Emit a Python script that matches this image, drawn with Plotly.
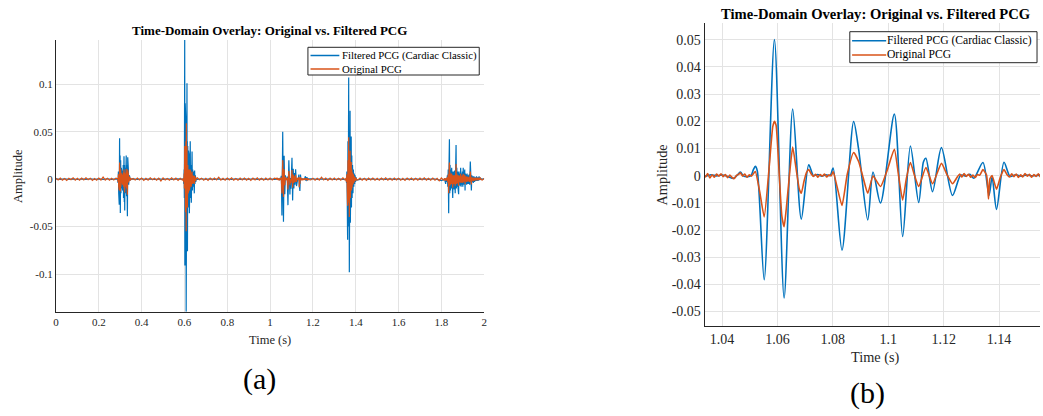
import plotly.graph_objects as go

# ---------------- data ----------------
SERIES_NAMES = ["Filtered PCG (Cardiac Classic)", "Original PCG"]
TITLE = "Time-Domain Overlay: Original vs. Filtered PCG"

# baseline noise of the original PCG, one value every 0.01 s from 0 to 2 s
orig_base_step = 0.01
orig_base = [
    0.0010,-0.0008,0.0012,-0.0011,0.0006,-0.0013,0.0009,-0.0007,0.0014,-0.0010,
    0.0008,-0.0012,0.0011,-0.0009,0.0013,-0.0006,0.0010,-0.0014,0.0007,-0.0011,
    0.0012,-0.0009,0.0022,-0.0010,0.0008,-0.0012,0.0010,-0.0008,0.0011,-0.0013,
    0.0009,-0.0011,0.0013,-0.0008,0.0010,-0.0012,0.0007,-0.0010,0.0012,-0.0009,
    0.0011,-0.0014,0.0008,-0.0010,0.0013,-0.0007,0.0009,-0.0012,0.0010,-0.0020,
    0.0012,-0.0009,0.0007,-0.0011,0.0014,-0.0008,0.0010,-0.0013,0.0009,-0.0010,
    0.0011,-0.0008,0.0012,-0.0010,0.0009,-0.0012,0.0013,-0.0007,0.0010,-0.0011,
    0.0008,-0.0013,0.0011,-0.0009,0.0012,-0.0008,0.0021,-0.0010,0.0009,-0.0012,
    0.0010,-0.0009,0.0013,-0.0011,0.0007,-0.0012,0.0011,-0.0008,0.0012,-0.0010,
    0.0009,-0.0014,0.0010,-0.0008,0.0013,-0.0010,0.0008,-0.0011,0.0012,-0.0009,
    0.0011,-0.0010,0.0009,-0.0012,0.0010,-0.0008,0.0012,-0.0011,0.0009,-0.0010,
    0.0012,-0.0009,0.0010,-0.0013,0.0008,-0.0011,0.0013,-0.0009,0.0011,-0.0008,
    0.0010,-0.0012,0.0009,-0.0010,0.0020,-0.0008,0.0011,-0.0013,0.0010,-0.0009,
    0.0012,-0.0010,0.0008,-0.0011,0.0013,-0.0009,0.0010,-0.0012,0.0009,-0.0010,
    0.0011,-0.0008,0.0012,-0.0010,0.0009,-0.0013,0.0010,-0.0009,0.0012,-0.0011,
    0.0008,-0.0012,0.0010,-0.0009,0.0013,-0.0010,0.0009,-0.0011,0.0012,-0.0008,
    0.0010,-0.0011,0.0009,-0.0013,0.0011,-0.0008,0.0012,-0.0010,0.0009,-0.0012,
    0.0011,-0.0009,0.0013,-0.0010,0.0008,-0.0012,0.0010,-0.0011,0.0009,-0.0018,
    0.0012,-0.0010,0.0009,-0.0011,0.0010,-0.0008,0.0012,-0.0009,0.0011,-0.0010,
    0.0009,-0.0012,0.0010,-0.0008,0.0011,-0.0010,0.0013,-0.0009,0.0010,-0.0011,
    0.0008,
]

# baseline of the filtered PCG, one value every 0.02 s from 0 to 2 s
filt_base_step = 0.02
filt_base = [
    0.0003,-0.0002,0.0004,-0.0003,0.0002,-0.0004,0.0003,-0.0002,0.0004,-0.0003,
    0.0002,-0.0003,0.0004,-0.0002,0.0003,-0.0004,0.0002,-0.0003,0.0003,-0.0002,
    0.0004,-0.0003,0.0002,-0.0004,0.0003,-0.0002,0.0004,-0.0003,0.0002,-0.0003,
    0.0003,-0.0004,0.0002,-0.0003,0.0004,-0.0002,0.0003,-0.0003,0.0002,-0.0004,
    0.0003,-0.0002,0.0004,-0.0003,0.0002,-0.0003,0.0004,-0.0002,0.0003,-0.0004,
    0.0002,-0.0003,0.0003,-0.0002,0.0004,-0.0003,0.0002,-0.0004,0.0003,-0.0002,
    0.0004,-0.0003,0.0002,-0.0003,0.0003,-0.0004,0.0002,-0.0002,0.0004,-0.0003,
    0.0003,-0.0002,0.0004,-0.0003,0.0002,-0.0004,0.0003,-0.0002,0.0003,-0.0003,
    0.0002,-0.0004,0.0003,-0.0002,0.0004,-0.0003,0.0002,-0.0003,0.0004,-0.0002,
    -0.0015,-0.0030,0.0003,-0.0002,0.0004,-0.0003,0.0002,-0.0004,0.0003,-0.0002,
    0.0002,
]

# heart-sound bursts: (time s, filtered, original)
burst1 = [
    (0.2880, 0.0000, 0.0005), (0.2900,-0.0040,-0.0030), (0.2915, 0.0080, 0.0050),
    (0.2930,-0.0150,-0.0080), (0.2945, 0.0180, 0.0100), (0.2955,-0.0270,-0.0120),
    (0.2970, 0.0430, 0.0175), (0.2985,-0.0200,-0.0100), (0.2995, 0.0250, 0.0120),
    (0.3005,-0.0358,-0.0130), (0.3020, 0.0200, 0.0100), (0.3035,-0.0150,-0.0080),
    (0.3050, 0.0120, 0.0060), (0.3065,-0.0100,-0.0050), (0.3080, 0.0080, 0.0040),
    (0.3095,-0.0090,-0.0040), (0.3110, 0.0100, 0.0050), (0.3125,-0.0120,-0.0060),
    (0.3140, 0.0150, 0.0070), (0.3155,-0.0200,-0.0080), (0.3176, 0.0240, 0.0100),
    (0.3190,-0.0240,-0.0110), (0.3200, 0.0150, 0.0070), (0.3210,-0.0330,-0.0140),
    (0.3225, 0.0120, 0.0060), (0.3240,-0.0150,-0.0080), (0.3260, 0.0180, 0.0080),
    (0.3270,-0.0100,-0.0060), (0.3280, 0.0250, 0.0110), (0.3295,-0.0180,-0.0100),
    (0.3310, 0.0150, 0.0080), (0.3335,-0.0390,-0.0165), (0.3350, 0.0230, 0.0100),
    (0.3365,-0.0150,-0.0070), (0.3380, 0.0100, 0.0050), (0.3395,-0.0060,-0.0035),
    (0.3410, 0.0040, 0.0025), (0.3425,-0.0030,-0.0020), (0.3440, 0.0030, 0.0020),
    (0.3460,-0.0015,-0.0015), (0.3480, 0.0010, 0.0012), (0.3500, 0.0000,-0.0005),
]

burst2 = [
    (0.5950, 0.0000, 0.0010), (0.5970,-0.0050,-0.0030), (0.5985, 0.0100, 0.0060),
    (0.5995,-0.0200,-0.0100), (0.6005, 0.0300, 0.0150), (0.6012, 0.1466, 0.0350),
    (0.6020,-0.0910,-0.0300), (0.6035, 0.0800, 0.0300), (0.6050,-0.0700,-0.0350),
    (0.6065, 0.0600, 0.0400), (0.6080,-0.1397,-0.0550), (0.6088, 0.0500, 0.0590),
    (0.6098,-0.0500,-0.0300), (0.6105, 0.0300, 0.0250), (0.6110,-0.0400,-0.0250),
    (0.6118, 0.1010, 0.0350), (0.6126,-0.0600,-0.0300), (0.6133, 0.0400, 0.0200),
    (0.6140,-0.0760,-0.0280), (0.6155, 0.0350, 0.0150), (0.6170,-0.0300,-0.0150),
    (0.6185, 0.0300, 0.0120), (0.6200,-0.0250,-0.0120), (0.6215, 0.0250, 0.0100),
    (0.6230,-0.0360,-0.0120), (0.6245, 0.0200, 0.0080), (0.6260,-0.0150,-0.0080),
    (0.6270, 0.0400, 0.0100), (0.6285,-0.0200,-0.0080), (0.6300, 0.0150, 0.0060),
    (0.6320,-0.0250,-0.0080), (0.6335, 0.0120, 0.0050), (0.6345,-0.0100,-0.0050),
    (0.6355, 0.0290, 0.0080), (0.6370,-0.0120,-0.0050), (0.6385, 0.0100, 0.0040),
    (0.6400,-0.0080,-0.0040), (0.6420, 0.0080, 0.0035), (0.6440,-0.0060,-0.0030),
    (0.6450, 0.0030, 0.0020), (0.6460,-0.0150,-0.0050), (0.6475, 0.0090, 0.0035),
    (0.6490,-0.0050,-0.0025), (0.6510, 0.0040, 0.0020), (0.6530,-0.0030,-0.0015),
    (0.6550, 0.0010, 0.0005),
]

# burst 3 (shown enlarged in panel b): filtered (time, value)
burst3_filt = [
    (1.0300, 0.0000), (1.0320, 0.0003), (1.0340,-0.0002), (1.0360, 0.0003),
    (1.0380,-0.0001), (1.0400, 0.0002), (1.0420,-0.0003), (1.0442,-0.0010),
    (1.0455, 0.0002), (1.0466, 0.0013), (1.0478,-0.0002), (1.0492,-0.0004),
    (1.0505, 0.0001), (1.0513, 0.0022), (1.0520, 0.0034), (1.0527, 0.0018),
    (1.0552,-0.0383), (1.0589, 0.0500), (1.0624,-0.0450), (1.0655, 0.0245),
    (1.0686,-0.0160), (1.0713, 0.0040), (1.0730, 0.0000), (1.0745, 0.0004),
    (1.0760,-0.0002), (1.0775, 0.0003), (1.0790, 0.0000), (1.0801, 0.0028),
    (1.0833,-0.0274), (1.0875, 0.0199), (1.0893, 0.0097), (1.0926,-0.0163),
    (1.0945, 0.0013), (1.0972,-0.0101), (1.1022, 0.0226), (1.1052,-0.0224),
    (1.1080, 0.0109), (1.1110,-0.0099), (1.1127, 0.0050), (1.1136, 0.0064),
    (1.1160,-0.0059), (1.1192, 0.0103), (1.1232,-0.0073), (1.1262, 0.0002),
    (1.1280,-0.0002), (1.1295, 0.0005), (1.1309,-0.0010), (1.1342, 0.0048),
    (1.1364,-0.0072), (1.1375,-0.0005), (1.1391,-0.0124), (1.1418, 0.0049),
    (1.1440,-0.0003), (1.1460, 0.0003), (1.1480,-0.0002), (1.1500, 0.0002),
    (1.1520,-0.0001), (1.1550, 0.0002), (1.1600, 0.0000), (1.1650, 0.0030),
    (1.1680,-0.0020), (1.1720, 0.0020), (1.1760,-0.0012), (1.1800, 0.0003),
]

# burst 3: original (time, value)
burst3_orig = [
    (1.0300, 0.0004), (1.0308,-0.0006), (1.0316, 0.0009), (1.0324,-0.0003),
    (1.0332, 0.0007), (1.0340,-0.0005), (1.0348, 0.0008), (1.0356,-0.0009),
    (1.0364, 0.0003), (1.0372,-0.0006), (1.0380, 0.0006), (1.0388,-0.0002),
    (1.0396, 0.0007), (1.0404,-0.0004), (1.0412, 0.0004), (1.0420,-0.0008),
    (1.0428, 0.0002), (1.0436,-0.0007), (1.0444,-0.0011), (1.0452, 0.0001),
    (1.0460, 0.0005), (1.0466, 0.0010), (1.0474,-0.0002), (1.0482, 0.0006),
    (1.0490,-0.0006), (1.0498, 0.0003), (1.0506,-0.0002), (1.0513, 0.0007),
    (1.0520, 0.0015), (1.0536,-0.0060), (1.0552,-0.0152), (1.0570, 0.0030),
    (1.0583, 0.0180), (1.0589, 0.0200), (1.0595, 0.0185), (1.0606, 0.0010),
    (1.0616,-0.0150), (1.0624,-0.0188), (1.0632,-0.0120), (1.0645, 0.0020),
    (1.0655, 0.0105), (1.0668, 0.0020), (1.0679,-0.0050), (1.0686,-0.0065),
    (1.0696,-0.0020), (1.0705, 0.0012), (1.0713, 0.0022), (1.0722, 0.0006),
    (1.0730,-0.0003), (1.0738, 0.0005), (1.0746,-0.0006), (1.0754, 0.0004),
    (1.0762,-0.0002), (1.0770, 0.0006), (1.0778,-0.0005), (1.0786, 0.0003),
    (1.0794,-0.0001), (1.0801, 0.0015), (1.0815,-0.0040), (1.0833,-0.0110),
    (1.0852, 0.0005), (1.0875, 0.0085), (1.0893, 0.0052), (1.0910,-0.0010),
    (1.0926,-0.0065), (1.0945,-0.0002), (1.0972,-0.0040), (1.0997, 0.0022),
    (1.1022, 0.0097), (1.1037, 0.0002), (1.1052,-0.0090), (1.1066,-0.0008),
    (1.1080, 0.0048), (1.1095, 0.0000), (1.1110,-0.0040), (1.1136, 0.0030),
    (1.1160,-0.0030), (1.1192, 0.0045), (1.1212, 0.0004), (1.1232,-0.0030),
    (1.1250,-0.0004), (1.1258, 0.0006), (1.1266,-0.0005), (1.1274, 0.0008),
    (1.1282,-0.0003), (1.1290, 0.0005), (1.1298,-0.0006), (1.1306, 0.0002),
    (1.1314,-0.0007), (1.1322, 0.0004), (1.1330, 0.0001), (1.1342, 0.0022),
    (1.1355, 0.0002), (1.1362,-0.0086), (1.1367,-0.0012), (1.1375, 0.0000),
    (1.1391,-0.0050), (1.1405,-0.0005), (1.1418, 0.0022), (1.1430, 0.0002),
    (1.1438,-0.0005), (1.1446, 0.0007), (1.1454,-0.0004), (1.1462, 0.0006),
    (1.1470,-0.0007), (1.1478, 0.0003), (1.1486,-0.0005), (1.1494, 0.0008),
    (1.1502,-0.0002), (1.1510, 0.0005), (1.1518,-0.0006), (1.1526, 0.0004),
    (1.1534,-0.0003), (1.1542, 0.0007), (1.1550,-0.0005), (1.1560, 0.0006),
    (1.1580,-0.0006), (1.1620, 0.0010), (1.1660,-0.0008), (1.1700, 0.0009),
    (1.1740,-0.0007), (1.1780, 0.0006), (1.1800,-0.0004),
]

burst4 = [
    (1.3550, 0.0000, 0.0010), (1.3570,-0.0040,-0.0030), (1.3585, 0.0080, 0.0050),
    (1.3600,-0.0150,-0.0080), (1.3610, 0.0200, 0.0100), (1.3620,-0.0640,-0.0280),
    (1.3635, 0.0400, 0.0200), (1.3650,-0.0400,-0.0200), (1.3660, 0.0300, 0.0150),
    (1.3670, 0.1070, 0.0440), (1.3680,-0.0500,-0.0250), (1.3690, 0.0300, 0.0200),
    (1.3700,-0.0980,-0.0400), (1.3715, 0.0500, 0.0250), (1.3722,-0.0300,-0.0150),
    (1.3735, 0.0720, 0.0300), (1.3748,-0.0460,-0.0200), (1.3760, 0.0400, 0.0150),
    (1.3775,-0.0300,-0.0130), (1.3788, 0.0450, 0.0180), (1.3800,-0.0300,-0.0120),
    (1.3815, 0.0250, 0.0100), (1.3830,-0.0200,-0.0090), (1.3850, 0.0150, 0.0070),
    (1.3870,-0.0150,-0.0060), (1.3890, 0.0100, 0.0050), (1.3910,-0.0080,-0.0040),
    (1.3930, 0.0060, 0.0030), (1.3950,-0.0050,-0.0025), (1.3970, 0.0040, 0.0020),
    (1.3990,-0.0030,-0.0015), (1.4010, 0.0020, 0.0012), (1.4040,-0.0010,-0.0006),
]

burst5 = [
    (1.8150, 0.0000, 0.0008), (1.8180,-0.0020,-0.0010), (1.8200,-0.0050,-0.0015),
    (1.8220, 0.0010, 0.0010), (1.8250,-0.0030,-0.0012), (1.8280, 0.0040, 0.0020),
    (1.8300,-0.0080,-0.0035), (1.8320, 0.0100, 0.0050), (1.8340,-0.0360,-0.0150),
    (1.8360, 0.0200, 0.0090), (1.8375, 0.0420, 0.0175), (1.8390,-0.0150,-0.0070),
    (1.8405, 0.0150, 0.0070), (1.8420,-0.0120,-0.0060), (1.8440, 0.0100, 0.0050),
    (1.8460,-0.0100,-0.0050), (1.8480, 0.0120, 0.0060), (1.8500,-0.0080,-0.0040),
    (1.8515, 0.0060, 0.0030), (1.8530,-0.0200,-0.0090), (1.8545, 0.0080, 0.0040),
    (1.8560,-0.0100,-0.0050), (1.8580, 0.0080, 0.0040), (1.8600,-0.0110,-0.0050),
    (1.8620, 0.0090, 0.0040), (1.8645,-0.0150,-0.0070), (1.8665, 0.0060, 0.0030),
    (1.8675,-0.0050,-0.0025), (1.8685, 0.0360, 0.0160), (1.8700,-0.0100,-0.0050),
    (1.8720, 0.0120, 0.0055), (1.8740,-0.0080,-0.0040), (1.8760, 0.0080, 0.0040),
    (1.8780,-0.0100,-0.0045), (1.8790, 0.0050, 0.0025), (1.8805,-0.0160,-0.0070),
    (1.8820, 0.0080, 0.0040), (1.8840,-0.0060,-0.0030), (1.8860, 0.0060, 0.0030),
    (1.8880,-0.0070,-0.0035), (1.8900, 0.0120, 0.0055), (1.8920,-0.0080,-0.0040),
    (1.8940, 0.0060, 0.0030), (1.8960,-0.0060,-0.0030), (1.8980, 0.0080, 0.0040),
    (1.9000,-0.0080,-0.0040), (1.9020, 0.0120, 0.0055), (1.9040,-0.0060,-0.0030),
    (1.9060, 0.0070, 0.0035), (1.9075,-0.0050,-0.0025), (1.9090, 0.0100, 0.0045),
    (1.9105,-0.0120,-0.0055), (1.9120, 0.0060, 0.0030), (1.9140,-0.0040,-0.0020),
    (1.9160, 0.0050, 0.0025), (1.9180,-0.0060,-0.0030), (1.9200, 0.0060, 0.0030),
    (1.9220,-0.0050,-0.0025), (1.9250, 0.0040, 0.0020), (1.9270,-0.0050,-0.0025),
    (1.9300, 0.0050, 0.0025), (1.9320,-0.0060,-0.0030), (1.9350, 0.0185, 0.0080),
    (1.9365,-0.0080,-0.0040), (1.9380, 0.0040, 0.0020), (1.9400,-0.0120,-0.0055),
    (1.9420, 0.0040, 0.0020), (1.9440,-0.0030,-0.0015), (1.9460, 0.0030, 0.0015),
    (1.9490,-0.0040,-0.0020), (1.9520, 0.0030, 0.0015), (1.9550,-0.0030,-0.0015),
    (1.9580, 0.0020, 0.0012), (1.9610,-0.0020,-0.0012), (1.9640, 0.0030, 0.0015),
    (1.9670,-0.0020,-0.0012), (1.9700, 0.0020, 0.0012), (1.9730,-0.0015,-0.0010),
    (1.9760, 0.0030, 0.0015), (1.9790,-0.0010,-0.0008), (1.9820, 0.0015, 0.0010),
    (1.9850, 0.0000, 0.0005),
]

# axis ticks
a_xticks = [0, 0.2, 0.4, 0.6, 0.8, 1.0, 1.2, 1.4, 1.6, 1.8, 2.0]
a_xticklabels = ["0", "0.2", "0.4", "0.6", "0.8", "1", "1.2", "1.4", "1.6", "1.8", "2"]
a_yticks = [-0.1, -0.05, 0, 0.05, 0.1]
a_yticklabels = ["-0.1", "-0.05", "0", "0.05", "0.1"]
b_xticks = [1.04, 1.06, 1.08, 1.10, 1.12, 1.14]
b_xticklabels = ["1.04", "1.06", "1.08", "1.1", "1.12", "1.14"]
b_yticks = [-0.05, -0.04, -0.03, -0.02, -0.01, 0, 0.01, 0.02, 0.03, 0.04, 0.05]
b_yticklabels = ["-0.05", "-0.04", "-0.03", "-0.02", "-0.01", "0",
                 "0.01", "0.02", "0.03", "0.04", "0.05"]

# ---------------- assemble signals ----------------
def assemble(base_vals, step, segments):
    windows = [(min(p[0] for p in s), max(p[0] for p in s)) for s in segments]
    pts = []
    for i, v in enumerate(base_vals):
        t = round(i * step, 6)
        if not any(a - 1e-9 <= t <= b + 1e-9 for a, b in windows):
            pts.append((t, v))
    for s in segments:
        pts.extend(s)
    pts.sort(key=lambda p: p[0])
    return [p[0] for p in pts], [p[1] for p in pts]

filt_segments = [[(r[0], r[1]) for r in b] for b in (burst1, burst2, burst4, burst5)] + [burst3_filt]
orig_segments = [[(r[0], r[2]) for r in b] for b in (burst1, burst2, burst4, burst5)] + [burst3_orig]

tf, vf = assemble(filt_base, filt_base_step, filt_segments)
to, vo = assemble(orig_base, orig_base_step, orig_segments)

def clip(t, v, lo, hi):
    pairs = [(a, b) for a, b in zip(t, v) if lo <= a <= hi]
    return [p[0] for p in pairs], [p[1] for p in pairs]

tf_b, vf_b = clip(tf, vf, 1.025, 1.185)
to_b, vo_b = clip(to, vo, 1.025, 1.185)

# ---------------- figure ----------------
BLUE = "#0072BD"
ORANGE = "#D95319"
SERIF = "Liberation Serif, Times New Roman, serif"
AX = "#262626"
GRID = "#e3e3e3"
W, H = 1043, 416

fig = go.Figure()
fig.add_trace(go.Scatter(x=tf, y=vf, mode="lines", name=SERIES_NAMES[0],
                         line=dict(color=BLUE, width=1.2), xaxis="x", yaxis="y",
                         showlegend=False))
fig.add_trace(go.Scatter(x=to, y=vo, mode="lines", name=SERIES_NAMES[1],
                         line=dict(color=ORANGE, width=1.2), xaxis="x", yaxis="y",
                         showlegend=False))
fig.add_trace(go.Scatter(x=tf_b, y=vf_b, mode="lines", name=SERIES_NAMES[0],
                         line=dict(color=BLUE, width=1.6, shape="spline", smoothing=0.8),
                         xaxis="x2", yaxis="y2", showlegend=False))
fig.add_trace(go.Scatter(x=to_b, y=vo_b, mode="lines", name=SERIES_NAMES[1],
                         line=dict(color=ORANGE, width=1.6, shape="spline", smoothing=0.5),
                         xaxis="x2", yaxis="y2", showlegend=False))

def px_x(p):
    return p / W

def px_y(p):
    return 1 - p / H

common = dict(showline=True, linecolor=AX, linewidth=1, mirror=False,
              showgrid=True, gridcolor=GRID, gridwidth=1, zeroline=False,
              ticks="", color=AX)

fig.update_layout(
    width=W, height=H,
    margin=dict(l=0, r=0, t=0, b=0),
    paper_bgcolor="white", plot_bgcolor="white",
    showlegend=False,
    xaxis=dict(domain=[px_x(53.3), px_x(484)], anchor="y", range=[0, 2],
               tickvals=a_xticks, ticktext=a_xticklabels,
               tickfont=dict(family=SERIF, size=11, color=AX), **common),
    yaxis=dict(domain=[px_y(311.7), px_y(40)], anchor="x", range=[-0.1397, 0.1466],
               tickvals=a_yticks, ticktext=a_yticklabels,
               tickfont=dict(family=SERIF, size=11, color=AX), **common),
    xaxis2=dict(domain=[px_x(705.7), 1.0], anchor="y2", range=[1.0337, 1.1548],
                tickvals=b_xticks, ticktext=b_xticklabels,
                tickfont=dict(family=SERIF, size=14, color=AX), **common),
    yaxis2=dict(domain=[px_y(326), px_y(23.3)], anchor="x2", range=[-0.0553, 0.056],
                tickvals=b_yticks, ticktext=b_yticklabels,
                tickfont=dict(family=SERIF, size=14, color=AX), **common),
)

def text(x, y, s, size, bold=False, angle=0, color="#000000", anchor="center"):
    fig.add_annotation(x=px_x(x), y=px_y(y), xref="paper", yref="paper",
                       text=f"<b>{s}</b>" if bold else s, showarrow=False,
                       xanchor=anchor, yanchor="middle", textangle=angle,
                       font=dict(family=SERIF, size=size, color=color))

def legend_box(box, rows, line_x, text_x, size):
    x0, x1, y0, y1 = box
    fig.add_shape(type="rect", xref="paper", yref="paper",
                  x0=px_x(x0), x1=px_x(x1), y0=px_y(y1), y1=px_y(y0),
                  fillcolor="white", line=dict(color=AX, width=1), layer="above")
    for yc, color, label in rows:
        fig.add_shape(type="line", xref="paper", yref="paper",
                      x0=px_x(line_x[0]), x1=px_x(line_x[1]),
                      y0=px_y(yc), y1=px_y(yc),
                      line=dict(color=color, width=1.5), layer="above")
        text(text_x, yc, label, size, anchor="left")

legend_box((306.7, 479, 47.3, 75),
           [(55.5, BLUE, SERIES_NAMES[0]), (69.0, ORANGE, SERIES_NAMES[1])],
           (309.3, 338.3), 338.5, 10.8)
legend_box((851.7, 1040, 31.7, 62.7),
           [(40.7, BLUE, SERIES_NAMES[0]), (55.0, ORANGE, SERIES_NAMES[1])],
           (854, 888.3), 887.5, 11.6)

text(268.5, 31, TITLE, 13, bold=True)
text(878, 13.5, TITLE, 14.6, bold=True)
text(268.3, 339.5, "Time (s)", 12.5, color=AX)
text(15, 176, "Amplitude", 12.5, angle=-90, color=AX)
text(878, 357.7, "Time (s)", 14.3, color=AX)
text(663.3, 175, "Amplitude", 14.3, angle=-90, color=AX)
text(258.3, 379, "(a)", 30)
text(870, 393, "(b)", 30)

fig.write_html("out.html")
